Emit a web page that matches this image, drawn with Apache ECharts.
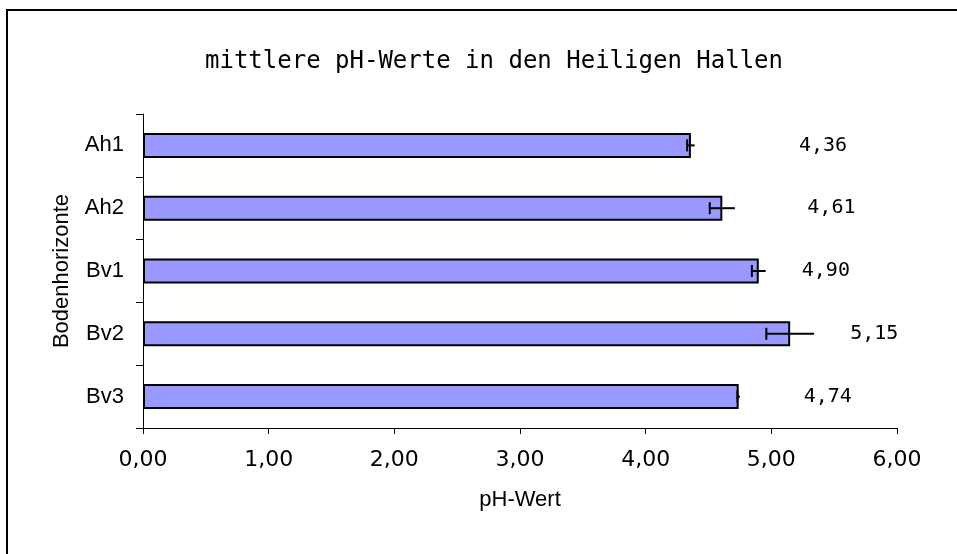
<!DOCTYPE html>
<html>
<head>
<meta charset="utf-8">
<script src="https://cdn.jsdelivr.net/npm/echarts@6/dist/echarts.min.js"></script>
<style>
html, body { margin: 0; padding: 0; background: #fff; }
#chart { width: 957px; height: 554px; }
</style>
</head>
<body>
<div id="chart"></div>
<script>
// Daten
var horizonte = ['Ah1', 'Ah2', 'Bv1', 'Bv2', 'Bv3'];
var phMittel = [4.36, 4.61, 4.90, 5.15, 4.74];
var phFehler = [0.03, 0.10, 0.055, 0.19, 0.01];
var xTicks = [0, 1, 2, 3, 4, 5, 6];

function fmt(v) {
    return Number(v).toFixed(2).replace('.', ',');
}

function AddPhChart(id) {
    var echart = echarts.init(document.getElementById(id));

    // Abstand der Werte-Labels vom Balkenende (wie im Original verschoben)
    var labelGap = [108, 85, 43, 60, 65];

    var barData = phMittel.map((v, i) => ({
        value: v,
        label: { distance: labelGap[i] }
    }));
    var errData = horizonte.map((c, i) => [i, phMittel[i] - phFehler[i], phMittel[i] + phFehler[i]]);

    var option = {
        animation: false,
        title: {
            text: 'mittlere pH-Werte in den Heiligen Hallen',
            left: 489,
            top: 45,
            textAlign: 'center',
            textStyle: {
                fontFamily: 'DejaVu Sans Mono',
                fontSize: 24,
                fontWeight: 'normal',
                color: '#000'
            }
        },
        graphic: [{
            type: 'rect',
            shape: { x: 7, y: 10, width: 1000, height: 600 },
            style: { fill: null, stroke: '#000', lineWidth: 2 },
            silent: true
        }],
        grid: {
            left: 143,
            right: 60,
            top: 114,
            bottom: 126
        },
        xAxis: {
            type: 'value',
            min: xTicks[0],
            max: xTicks[xTicks.length - 1],
            interval: 1,
            name: 'pH-Wert',
            nameLocation: 'middle',
            nameGap: 61,
            nameTextStyle: {
                fontFamily: 'Liberation Sans',
                fontSize: 22,
                color: '#000'
            },
            splitLine: { show: false },
            axisLine: { show: true, lineStyle: { color: '#000', width: 1 } },
            axisTick: { show: true, length: 6, lineStyle: { color: '#000' } },
            axisLabel: {
                margin: 21,
                formatter: fmt,
                fontFamily: 'DejaVu Sans',
                fontSize: 22,
                color: '#000'
            }
        },
        yAxis: {
            type: 'category',
            data: horizonte,
            inverse: true,
            name: 'Bodenhorizonte',
            nameLocation: 'middle',
            nameGap: 70,
            nameTextStyle: {
                fontFamily: 'Liberation Sans',
                fontSize: 22,
                color: '#000'
            },
            axisLine: { show: true, lineStyle: { color: '#000', width: 1 } },
            axisTick: { show: true, length: 7, lineStyle: { color: '#000' } },
            axisLabel: {
                margin: 19,
                fontFamily: 'Liberation Sans',
                fontSize: 22,
                color: '#000'
            }
        },
        series: [
            {
                name: 'pH',
                type: 'bar',
                data: barData,
                barWidth: 25,
                itemStyle: {
                    color: '#9999ff',
                    borderColor: '#000',
                    borderWidth: 2
                },
                label: {
                    show: true,
                    position: 'right',
                    formatter: p => fmt(p.value),
                    fontFamily: 'DejaVu Sans Mono',
                    fontSize: 20,
                    color: '#000'
                }
            },
            {
                name: 'Fehler',
                type: 'custom',
                data: errData,
                encode: { x: [1, 2], y: 0 },
                renderItem: function (params, api) {
                    var lo = api.coord([api.value(1), api.value(0)]);
                    var hi = api.coord([api.value(2), api.value(0)]);
                    var h = 12;
                    return {
                        type: 'group',
                        children: [
                            {
                                type: 'line',
                                shape: { x1: lo[0], y1: lo[1], x2: hi[0], y2: hi[1] },
                                style: { stroke: '#000', lineWidth: 2 }
                            },
                            {
                                type: 'line',
                                shape: { x1: lo[0], y1: lo[1] - h / 2, x2: lo[0], y2: lo[1] + h / 2 },
                                style: { stroke: '#000', lineWidth: 2 }
                            }
                        ]
                    };
                },
                z: 3
            }
        ]
    };
    echart.setOption(option);
}

AddPhChart('chart');
</script>
</body>
</html>
